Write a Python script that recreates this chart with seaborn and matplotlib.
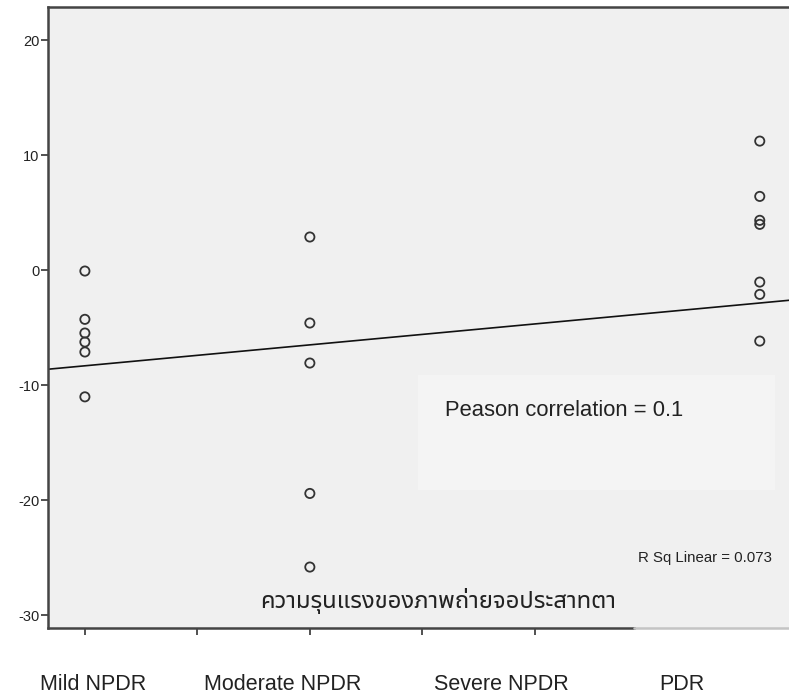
import matplotlib
matplotlib.use("Agg")
import matplotlib.pyplot as plt
from matplotlib import font_manager
from matplotlib.ft2font import FT2Font
import seaborn as sns
import pandas as pd

# --- data -------------------------------------------------------------
mild_npdr = [-0.06, -4.26, -5.45, -6.23, -7.1, -11.0]
moderate_npdr = [2.9, -4.58, -8.06, -19.4, -25.8]
pdr = [11.24, 6.43, 4.35, 4.0, -1.02, -2.09, -6.15]
group_codes = {"Mild NPDR": 1, "Moderate NPDR": 2, "Severe NPDR": 3, "PDR": 4}
category_labels = ["Mild NPDR", "Moderate NPDR", "Severe NPDR", "PDR"]
fit_intercept = -10.12
fit_slope = 1.82
r_sq_linear = 0.073
pearson_r = 0.1
y_ticks = [20, 10, 0, -10, -20, -30]
x_label = "ความรุนแรงของภาพถ่ายจอประสาทตา"

rows = ([("Mild NPDR", v) for v in mild_npdr]
        + [("Moderate NPDR", v) for v in moderate_npdr]
        + [("PDR", v) for v in pdr])
df = pd.DataFrame(rows, columns=["group", "value"])
df["code"] = df["group"].map(group_codes)


def thai_family():
    """Pick an installed font with Thai glyphs, preferring loopless sans."""
    found = []
    for f in font_manager.fontManager.ttflist:
        try:
            if 0x0E01 in FT2Font(f.fname).get_charmap():
                found.append(f.name)
        except Exception:
            continue
    if not found:
        return "DejaVu Sans"

    def rank(name):
        n = name.lower()
        score = 0
        if "looped" in n:
            score += 10
        if "serif" in n and "sans" not in n:
            score += 5
        if "sans" in n:
            score -= 2
        return score

    return sorted(set(found), key=rank)[0]


sns.set_theme(style="white")
plt.rcParams["font.family"] = ["Liberation Sans", "DejaVu Sans"]
thai = thai_family()

fig = plt.figure(figsize=(7.89, 7.0), dpi=100)
fig.patch.set_facecolor("white")
ax = fig.add_axes([48 / 789, 1 - 628 / 700, 1 - 48 / 789, (628 - 7) / 700])
ax.set_facecolor("#f0f0f0")

sns.scatterplot(data=df, x="code", y="value", ax=ax, marker="o", s=44,
                facecolor="none", edgecolor="#333333", linewidth=1.3,
                legend=False, zorder=3)
ax.axline((0, fit_intercept), slope=fit_slope, color="#111111", lw=1.2, zorder=2)

ax.set_xlim(0.836, 4.13)
ax.set_ylim(-31.1, 22.9)
ax.set_xticks([1, 1.5, 2, 2.5, 3])
ax.set_xticklabels([])
ax.set_yticks(y_ticks)
ax.set_yticklabels([str(t) for t in y_ticks], fontsize=10.5, color="#222222")
ax.tick_params(axis="both", direction="out", length=5, width=1.2,
               color="#333333", left=True, bottom=True, pad=1)
ax.set_xlabel("")
ax.set_ylabel("")

for side in ("left", "top", "bottom"):
    ax.spines[side].set_color("#444444")
    ax.spines[side].set_linewidth(1.8)
ax.spines["right"].set_visible(False)
ax.spines["bottom"].set_bounds(0.836, 3.44)
ax.plot([0.791, 1.0], [0, 0], transform=ax.transAxes, color="#c4c4c4",
        lw=1.8, clip_on=False, zorder=4)

# annotation panel
ax.add_patch(plt.Rectangle(((418 - 48) / 741, 1 - (375 - 7) / 621),
                           357 / 741, -115 / 621, transform=ax.transAxes,
                           facecolor="#f4f4f4", edgecolor="none", zorder=1))
ax.text((445 - 48) / 741, 1 - (410 - 7) / 621,
        f"Peason correlation = {pearson_r}", transform=ax.transAxes,
        fontsize=15.8, color="#222222", va="center", ha="left", zorder=5)
ax.text((772 - 48) / 741, 1 - (558 - 7) / 621,
        f"R Sq Linear = {r_sq_linear}", transform=ax.transAxes,
        fontsize=10.8, color="#222222", va="center", ha="right",
        family=["Liberation Sans Narrow", "Liberation Sans"], zorder=5)
ax.text((438 - 48) / 741, 1 - (601 - 7) / 621, x_label,
        transform=ax.transAxes, fontsize=17.2, color="#222222",
        va="center", ha="center", family=[thai, "DejaVu Sans"], zorder=5)

label_x = [93, 283, 501, 682]
for lbl, px in zip(category_labels, label_x):
    fig.text(px / 789, 1 - 685 / 700, lbl, fontsize=15.5, color="#222222",
             ha="center", va="center",
             family=["Liberation Sans Narrow", "Liberation Sans"])

fig.savefig("out.png", dpi=100, facecolor="white")
